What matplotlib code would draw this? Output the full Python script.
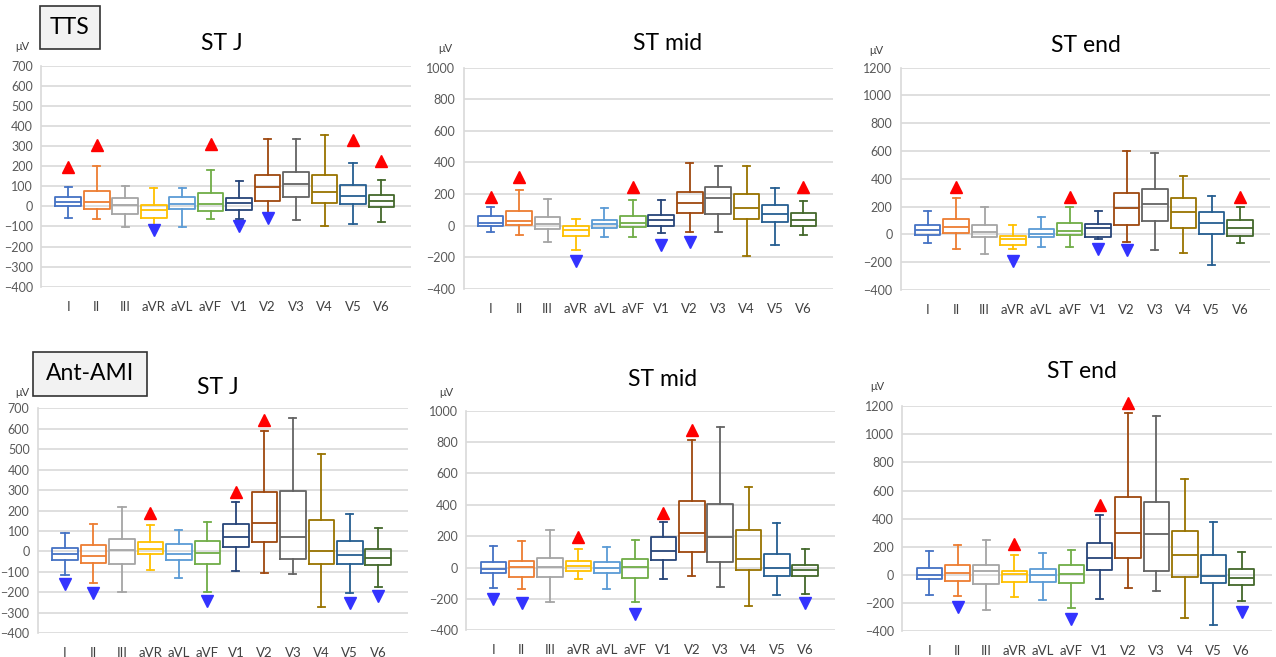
import numpy as np
import matplotlib
matplotlib.use('Agg')
import matplotlib.pyplot as plt
from matplotlib.patches import Rectangle

plt.rcParams['font.family'] = ['Lato', 'DejaVu Sans']

W, H = 1276, 657
nan = np.nan

leads = ['I', 'II', 'III', 'aVR', 'aVL', 'aVF', 'V1', 'V2', 'V3', 'V4', 'V5', 'V6']
lead_colors = ['#4472C4', '#ED7D31', '#A5A5A5', '#FFC000', '#5B9BD5', '#70AD47',
               '#264478', '#9E480E', '#636363', '#997300', '#255E91', '#43682B']

# rows: lower whisker, Q1, median, Q3, upper whisker  (uV)
tts_stj = [
    [-58, -61, -103, -103, -103, -61, -61, -35, -70, -100, -90, -78],
    [2, -12, -36, -58, -13, -25, -20, 25, 46, 18, 13, -5],
    [20, 22, 7, -20, 13, 10, 18, 96, 113, 71, 51, 27],
    [45, 76, 41, 5, 46, 66, 40, 154, 171, 154, 104, 58],
    [97, 199, 101, 93, 91, 179, 126, 337, 337, 353, 216, 133],
]
tts_stj_up = [195, 307, nan, nan, nan, 312, nan, nan, nan, nan, 328, 226]
tts_stj_down = [nan, nan, nan, -120, nan, nan, -100, -60, nan, nan, nan, nan]

tts_stmid = [
    [-43, -60, -106, -155, -73, -73, -50, -41, -41, -195, -123, -60],
    [0, 3, -22, -66, -13, -9, -5, 77, 71, 41, 22, 0],
    [14, 31, 10, -26, 10, 14, 35, 141, 174, 111, 75, 35],
    [60, 90, 54, 0, 35, 62, 65, 212, 246, 200, 132, 77],
    [120, 225, 168, 43, 109, 162, 162, 398, 377, 379, 236, 155],
]
tts_stmid_up = [183, 310, nan, nan, nan, 242, nan, nan, nan, nan, nan, 246]
tts_stmid_down = [nan, nan, nan, -225, nan, nan, -123, -102, nan, nan, nan, nan]

tts_stend = [
    [-62, -105, -139, -108, -89, -91, -31, -53, -113, -134, -223, -62],
    [-2, 10, -22, -77, -22, -2, -17, 69, 98, 46, 0, -10],
    [34, 53, 17, -34, 2, 24, 43, 187, 218, 163, 79, 43],
    [67, 110, 65, -14, 36, 79, 77, 295, 326, 259, 165, 103],
    [168, 259, 196, 69, 127, 196, 168, 599, 587, 417, 280, 196],
]
tts_stend_up = [nan, 340, nan, nan, nan, 268, nan, nan, nan, nan, nan, 268]
tts_stend_down = [nan, nan, nan, -189, nan, nan, -105, -115, nan, nan, nan, nan]

ami_stj = [
    [-115, -153, -198, -90, -130, -200, -94, -105, -110, -270, -204, -175],
    [-42, -55, -61, -12, -42, -61, 22, 45, -38, -61, -61, -64],
    [-14, -20, 6, 12, -14, -9, 71, 138, 69, 1, -19, -33],
    [15, 32, 61, 45, 37, 51, 133, 292, 297, 155, 50, 12],
    [89, 133, 219, 128, 105, 146, 240, 591, 651, 476, 183, 117],
]
ami_stj_up = [nan, nan, nan, 187, nan, nan, 293, 643, nan, nan, nan, nan]
ami_stj_down = [-159, -203, nan, nan, nan, -240, nan, nan, nan, nan, -253, -220]

ami_stmid = [
    [-132, -137, -217, -73, -137, -221, -73, -56, -124, -243, -177, -169],
    [-37, -58, -62, -20, -37, -66, 46, 99, 33, -13, -56, -54],
    [-7, 4, 4, 12, -3, 4, 106, 220, 195, 57, 0, -18],
    [38, 40, 63, 40, 33, 57, 197, 424, 405, 237, 89, 18],
    [140, 169, 239, 120, 133, 174, 290, 813, 894, 513, 284, 120],
]
ami_stmid_up = [nan, nan, nan, 197, nan, nan, 350, 877, nan, nan, nan, nan]
ami_stmid_down = [-200, -228, nan, nan, nan, -296, nan, nan, nan, nan, nan, -228]

ami_stend = [
    [-141, -148, -250, -160, -179, -236, -174, -94, -113, -305, -357, -186],
    [-32, -42, -65, -53, -51, -60, 34, 120, 27, -13, -60, -70],
    [-1, 11, 27, 4, -4, 6, 120, 298, 288, 139, -11, -23],
    [51, 68, 70, 30, 44, 72, 229, 557, 516, 312, 144, 44],
    [170, 215, 246, 139, 153, 179, 428, 1152, 1133, 682, 379, 163],
]
ami_stend_up = [nan, nan, nan, 220, nan, nan, 495, 1226, nan, nan, nan, nan]
ami_stend_down = [nan, -227, nan, nan, nan, -317, nan, nan, nan, nan, nan, -262]

ticks_j = list(range(-400, 701, 100))
ticks_mid = list(range(-400, 1001, 200))
ticks_end = list(range(-400, 1201, 200))

# (stats, up, down, title, yticks, first-lead x px, spacing px, top px, bottom px, title xy, uV xy)
panels = [
    (tts_stj, tts_stj_up, tts_stj_down, 'ST J', ticks_j, 68.3, 28.47, 65.7, 286.7, (222, 43), (22, 46)),
    (tts_stmid, tts_stmid_up, tts_stmid_down, 'ST mid', ticks_mid, 490.7, 28.43, 67.7, 288.7, (668, 44), (445, 48)),
    (tts_stend, tts_stend_up, tts_stend_down, 'ST end', ticks_end, 927.7, 28.4, 67.7, 290.0, (1086, 46), (876, 50)),
    (ami_stj, ami_stj_up, ami_stj_down, 'ST J', ticks_j, 65.0, 28.48, 408.3, 633.3, (218, 387), (22, 393)),
    (ami_stmid, ami_stmid_up, ami_stmid_down, 'ST mid', ticks_mid, 493.3, 28.36, 410.7, 630.3, (663, 380), (446, 393)),
    (ami_stend, ami_stend_up, ami_stend_down, 'ST end', ticks_end, 929.3, 28.4, 406.3, 631.0, (1082, 372), (877, 386)),
]

fig = plt.figure(figsize=(W / 100, H / 100), dpi=100)

x0, x1 = -0.95, 12.05
for stats, up, down, title, yt, xi, sp, top, bot, tpos, upos in panels:
    left = xi + x0 * sp
    ax = fig.add_axes([left / W, 1 - bot / H, (x1 - x0) * sp / W, (bot - top) / H])
    pos = np.arange(len(leads))
    bstats = [dict(whislo=stats[0][i], q1=stats[1][i], med=stats[2][i],
                   q3=stats[3][i], whishi=stats[4][i], fliers=[]) for i in pos]
    art = ax.bxp(bstats, positions=pos, widths=0.9, capwidths=0.25,
                 showfliers=False, manage_ticks=False)
    for i, c in enumerate(lead_colors):
        art['boxes'][i].set(color=c, linewidth=1.3)
        art['medians'][i].set(color=c, linewidth=1.3)
        for k in (2 * i, 2 * i + 1):
            art['whiskers'][k].set(color=c, linewidth=1.3)
            art['caps'][k].set(color=c, linewidth=1.3)
    ax.plot(pos, up, linestyle='none', marker='^', color='#FF0000', markersize=9, clip_on=False)
    ax.plot(pos, down, linestyle='none', marker='v', color='#3333FF', markersize=9, clip_on=False)

    ax.set_xlim(x0, x1)
    ax.set_ylim(yt[0], yt[-1])
    ax.set_yticks(yt)
    ax.set_xticks(pos)
    ax.set_xticklabels(leads)
    ax.grid(axis='y', color='#D9D9D9', linewidth=1.2)
    ax.set_axisbelow(True)
    for s in ('top', 'right', 'bottom'):
        ax.spines[s].set_visible(False)
    ax.spines['left'].set_color('#D9D9D9')
    ax.spines['left'].set_linewidth(1.2)
    ax.tick_params(axis='y', length=0, pad=6, labelsize=9, labelcolor='#595959')
    ax.tick_params(axis='x', length=0, pad=10, labelsize=9.5, labelcolor='#404040')

    fig.text(tpos[0] / W, 1 - tpos[1] / H, title, fontsize=16.5, ha='center', va='center')
    fig.text(upos[0] / W, 1 - upos[1] / H, 'μV', fontsize=8, ha='center', va='center', color='#404040')

# group labels in boxes
for label, (bx0, by0, bx1, by1) in [('TTS', (40, 6, 100, 49)), ('Ant-AMI', (33, 352, 147, 396))]:
    fig.add_artist(Rectangle((bx0 / W, 1 - by1 / H), (bx1 - bx0) / W, (by1 - by0) / H,
                             transform=fig.transFigure, facecolor='#F2F2F2',
                             edgecolor='#333333', linewidth=1.2))
    fig.text((bx0 + bx1) / 2 / W, 1 - (by0 + by1) / 2 / H, label, fontsize=16.5,
             ha='center', va='center')

plt.savefig('out.png', dpi=100)
